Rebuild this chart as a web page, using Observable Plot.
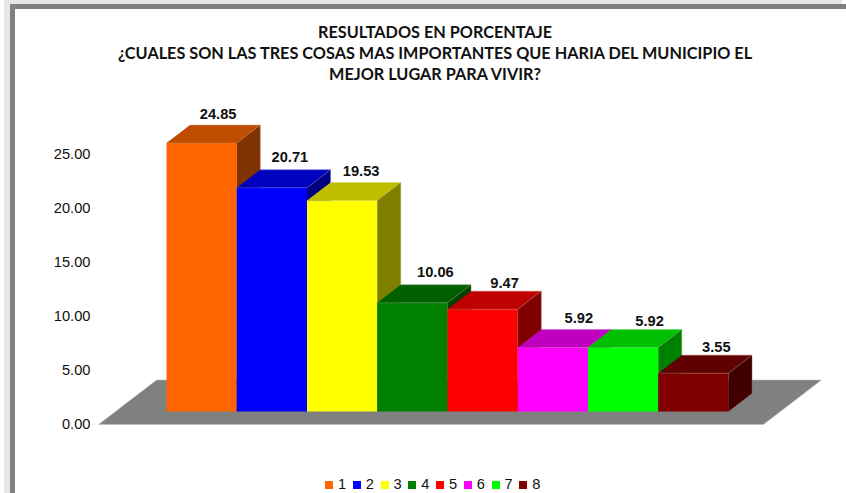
<!DOCTYPE html>
<html><head><meta charset="utf-8">
<script src="https://cdn.jsdelivr.net/npm/d3@7"></script>
<script src="https://cdn.jsdelivr.net/npm/@observablehq/plot@0.6"></script>
<style>
html,body{margin:0;padding:0;background:#fff;}
#page{position:relative;width:846px;height:493px;overflow:hidden;background:#fff;}
#outer{position:absolute;left:4px;top:0;width:838px;height:493px;background:#e6e6e6;}
#band{position:absolute;left:10px;top:4px;width:836px;height:489px;background:#808080;}
#inner{position:absolute;left:15px;top:9px;width:831px;height:484px;background:#fff;}
#title{position:absolute;left:0;top:21px;width:870px;text-align:center;font:bold 16.25px/21px Lato,sans-serif;color:#111;}
#chart{position:absolute;left:0;top:88px;}
#legend{position:absolute;left:325px;top:476px;display:flex;font:14.67px/16px "Liberation Sans",Arial,sans-serif;color:#111;}
#legend span.item{display:flex;align-items:center;width:27.75px;}
#legend i{display:block;width:8px;height:8px;margin-right:5px;margin-top:1px;}
</style></head>
<body>
<div id="page">
  <div id="outer"></div><div id="band"></div><div id="inner"></div>
  <div id="title"></div>
  <div id="chart"></div>
  <div id="legend"></div>
</div>
<script>
const titleLines = [
  "RESULTADOS EN PORCENTAJE",
  "¿CUALES SON LAS TRES COSAS MAS IMPORTANTES QUE HARIA DEL MUNICIPIO EL",
  "MEJOR LUGAR PARA VIVIR?"
];
const categories = ["1","2","3","4","5","6","7","8"];
const values = [24.85,20.71,19.53,10.06,9.47,5.92,5.92,3.55];
const colors = ["#ff6600","#0000ff","#ffff00","#008000","#ff0000","#ff00ff","#00ff00","#800000"];
const yTicks = [0,5,10,15,20,25];

// layout of the extruded view
const svgTop = 88;
const pxX = 70.25, pxY = 10.8;
const depthX = 23.5 / pxX, depthY = 18 / pxY;
const labelNudgeX = [-7,-5.5,-4.5,-0.5,-1.5,2.5,3,-0.5];
const labelNudgeY = [11,12.5,11,12.7,7.7,11,8,8];

function shade(c, k){ const r = d3.rgb(c); return d3.rgb(r.r*k, r.g*k, r.b*k).formatHex(); }
function lighter(c){ return d3.rgb(d3.interpolateRgb(c, "#ffffff")(0.35)).formatHex(); }

const polys = [];
function poly(id, fill, edge, pts){ pts.forEach(([x,y]) => polys.push({id, fill, edge, x, y})); }

// floor
poly("floor", "#808080", "#c4c4c4", [[-0.968,-1.2],[-0.142,2.92],[9.324,2.92],[8.498,-1.2]]);
categories.forEach((c,i) => {
  const v = values[i], col = colors[i];
  poly("f"+i, col, "none", [[i,0],[i+1,0],[i+1,v],[i,v]]);
  const top = shade(col,0.75), side = shade(col,0.5);
  poly("t"+i, top, lighter(top), [[i,v],[i+1,v],[i+1+depthX,v+depthY],[i+depthX,v+depthY]]);
  poly("s"+i, side, lighter(side), [[i+1,0],[i+1+depthX,depthY],[i+1+depthX,v+depthY],[i+1,v]]);
});

const labels = categories.map((c,i) => ({
  x: i + 0.5 + depthX + labelNudgeX[i]/pxX,
  y: values[i] + depthY + labelNudgeY[i]/pxY,
  t: values[i].toFixed(2)
}));

const plot = Plot.plot({
  width: 846, height: 352,
  marginLeft: 90, marginRight: 0, marginTop: 0, marginBottom: 0,
  x: {domain:[0,8], range:[166,166+8*pxX], axis:null},
  y: {domain:[0,25], range:[411-svgTop, 411-svgTop-25*pxY], axis:null},
  style: {background:"transparent", fontFamily:'"Liberation Sans",Arial,sans-serif', overflow:"visible"},
  marks: [
    Plot.axisY(yTicks, {anchor:"left", tickSize:0, tickPadding:0, dy:13, label:null,
      tickFormat:d3.format(".2f"), fontSize:14.67, fill:"#111"}),
    Plot.line(polys, {x:"x", y:"y", z:"id", fill:"fill", stroke:"edge", strokeWidth:0.5}),
    Plot.text(labels, {x:"x", y:"y", text:"t", fontWeight:"bold", fontSize:14.67, fill:"#111", textAnchor:"middle"})
  ]
});
document.getElementById("chart").append(plot);
document.getElementById("title").innerHTML = titleLines.join("<br>");
document.getElementById("legend").innerHTML = categories.map((c,i) =>
  `<span class="item"><i style="background:${colors[i]}"></i>${c}</span>`).join("");
</script>
</body></html>
